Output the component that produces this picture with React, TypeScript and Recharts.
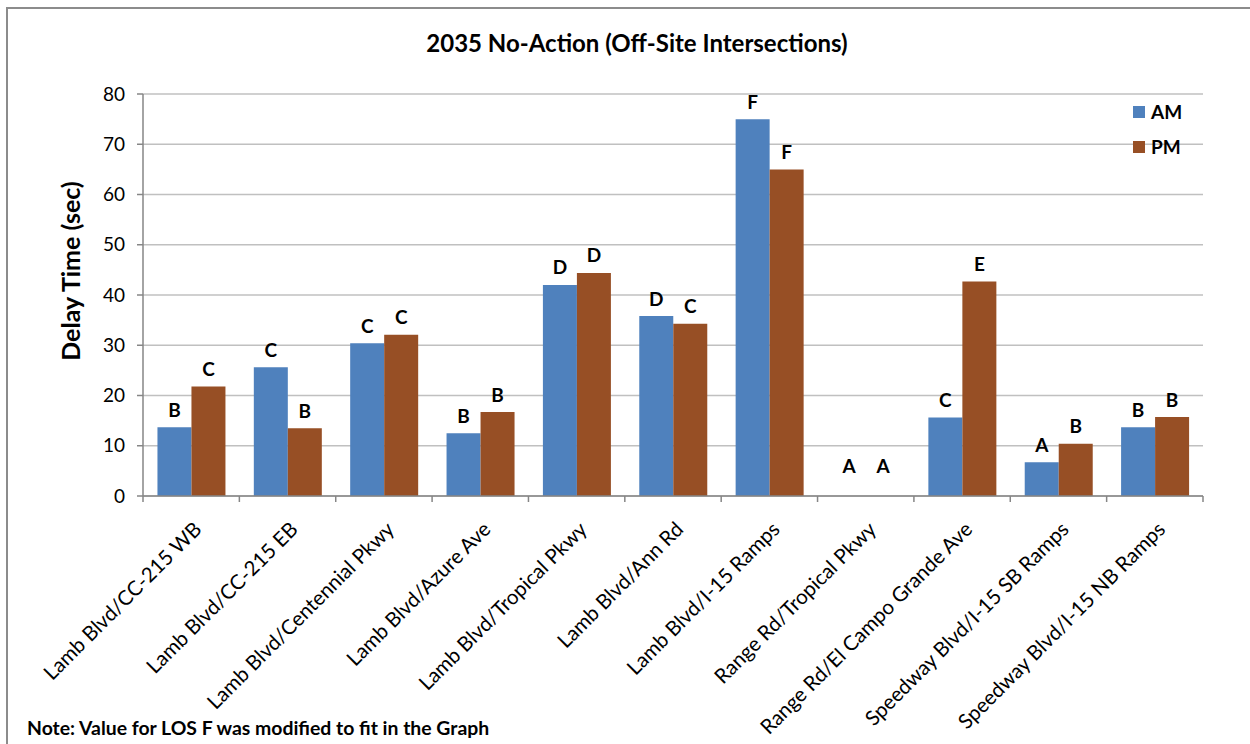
import React from "react";
import { Bar, BarChart, CartesianGrid, LabelList, Legend, XAxis, YAxis } from "recharts";

const categories = [
  "Lamb Blvd/CC-215 WB",
  "Lamb Blvd/CC-215 EB",
  "Lamb Blvd/Centennial Pkwy",
  "Lamb Blvd/Azure Ave",
  "Lamb Blvd/Tropical Pkwy",
  "Lamb Blvd/Ann Rd",
  "Lamb Blvd/I-15 Ramps",
  "Range Rd/Tropical Pkwy",
  "Range Rd/El Campo Grande Ave",
  "Speedway Blvd/I-15 SB Ramps",
  "Speedway Blvd/I-15 NB Ramps",
];
const amDelay = [13.7, 25.6, 30.4, 12.5, 42.0, 35.8, 75.0, 0, 15.6, 6.7, 13.7];
const pmDelay = [21.8, 13.5, 32.1, 16.7, 44.4, 34.3, 65.0, 0, 42.7, 10.4, 15.7];
const amLos = ["B", "C", "C", "B", "D", "D", "F", "A", "C", "A", "B"];
const pmLos = ["C", "B", "C", "B", "D", "C", "F", "A", "E", "B", "B"];
const yTicks = [0, 10, 20, 30, 40, 50, 60, 70, 80];

const data = categories.map((name, i) => ({
  name,
  am: amDelay[i],
  pm: pmDelay[i],
  amLos: amLos[i],
  pmLos: pmLos[i],
}));

const FONT = "Lato, 'Open Sans', sans-serif";
const AM_COLOR = "#4F81BD";
const PM_COLOR = "#974F25";
const AXIS_COLOR = "#868686";

const W = 1250;
const H = 744;
const Y_AXIS_W = 60;
const MARGIN = { top: 94, right: 47, bottom: 188, left: 83 };
const BAND = (W - MARGIN.left - Y_AXIS_W - MARGIN.right) / categories.length;

// keeps zero-delay bars in the label list (they draw nothing visible)
const zeroBarSize = (value: number) => (value === 0 ? 0.01 : 0);

// category labels slanted at 45°, with tick marks on the category edges
const CategoryTick = (props: any) => {
  const { x, y, payload, index } = props;
  const last = index === categories.length - 1;
  return (
    <g>
      <line x1={x - BAND / 2} x2={x - BAND / 2} y1={y} y2={y + 6} stroke={AXIS_COLOR} strokeWidth={1.5} />
      {last && <line x1={x + BAND / 2} x2={x + BAND / 2} y1={y} y2={y + 6} stroke={AXIS_COLOR} strokeWidth={1.5} />}
      <text
        transform={`translate(${x + 6},${y + 29}) rotate(-45)`}
        textAnchor="end"
        dominantBaseline="central"
        fontFamily={FONT}
        fontSize={20.5}
        fill="#000"
      >
        {payload.value}
      </text>
    </g>
  );
};

// LOS letter above each bar
const LosLabel = (props: any) => {
  const box = props.viewBox && props.viewBox.width != null ? props.viewBox : props;
  const { x, y, width, height } = box;
  const lift = Math.abs(height) < 0.5 ? 30 : 18;
  return (
    <text
      x={x + width / 2}
      y={y - lift}
      textAnchor="middle"
      dominantBaseline="central"
      fontFamily={FONT}
      fontWeight={700}
      fontSize={19}
      fill="#000"
    >
      {props.value}
    </text>
  );
};

const LegendBox = () => (
  <div style={{ fontFamily: FONT, fontWeight: 700, fontSize: 19, color: "#000" }}>
    {[
      { label: "AM", color: AM_COLOR },
      { label: "PM", color: PM_COLOR },
    ].map((item) => (
      <div key={item.label} style={{ display: "flex", alignItems: "center", height: 35 }}>
        <span style={{ display: "inline-block", width: 12, height: 12, background: item.color, marginRight: 6 }} />
        <span>{item.label}</span>
      </div>
    ))}
  </div>
);

export default function App() {
  return (
    <div style={{ position: "absolute", left: 0, top: 0, width: W, height: H, overflow: "hidden", background: "#fff" }}>
      <div
        style={{
          position: "absolute",
          left: 6,
          top: 7,
          width: W + 40,
          height: H + 40,
          border: "2px solid #8c8c8c",
        }}
      />
      <div
        style={{
          position: "absolute",
          left: 0,
          width: W,
          top: 28,
          textAlign: "center",
          fontFamily: FONT,
          fontWeight: 700,
          fontSize: 24,
          color: "#000",
          paddingLeft: 12,
        }}
      >
        2035 No-Action (Off-Site Intersections)
      </div>
      <div
        style={{
          position: "absolute",
          left: 70,
          top: 271,
          transform: "translate(-50%, -50%) rotate(-90deg)",
          whiteSpace: "nowrap",
          fontFamily: FONT,
          fontWeight: 700,
          fontSize: 25,
          color: "#000",
        }}
      >
        Delay Time (sec)
      </div>
      <div
        style={{
          position: "absolute",
          left: 27,
          top: 716,
          fontFamily: FONT,
          fontWeight: 700,
          fontSize: 19.4,
          color: "#000",
          whiteSpace: "nowrap",
        }}
      >
        Note: Value for LOS F was modified to fit in the Graph
      </div>
      <div style={{ position: "absolute", left: 0, top: 0 }}>
        <BarChart
          width={W}
          height={H}
          data={data}
          margin={MARGIN}
          barCategoryGap="15%"
          barGap={0}
        >
          <CartesianGrid vertical={false} stroke="#C0C0C0" strokeWidth={1.3} />
          <XAxis
            dataKey="name"
            interval={0}
            height={60}
            tickLine={false}
            tickSize={0}
            tickMargin={0}
            axisLine={{ stroke: AXIS_COLOR, strokeWidth: 1.5 }}
            tick={<CategoryTick />}
          />
          <YAxis
            width={Y_AXIS_W}
            domain={[0, 80]}
            ticks={yTicks}
            interval={0}
            tickSize={6}
            tickMargin={12}
            axisLine={{ stroke: AXIS_COLOR, strokeWidth: 1.5 }}
            tickLine={{ stroke: AXIS_COLOR, strokeWidth: 1.5 }}
            tick={{ fontFamily: FONT, fontSize: 19, fill: "#000" }}
          />
          <Legend
            layout="vertical"
            align="center"
            verticalAlign="middle"
            wrapperStyle={{ position: "absolute", top: 94, left: 1133, width: 80 }}
            content={<LegendBox />}
          />
          <Bar dataKey="am" name="AM" fill={AM_COLOR} minPointSize={zeroBarSize} isAnimationActive={false}>
            <LabelList dataKey="amLos" content={<LosLabel />} />
          </Bar>
          <Bar dataKey="pm" name="PM" fill={PM_COLOR} minPointSize={zeroBarSize} isAnimationActive={false}>
            <LabelList dataKey="pmLos" content={<LosLabel />} />
          </Bar>
        </BarChart>
      </div>
    </div>
  );
}
